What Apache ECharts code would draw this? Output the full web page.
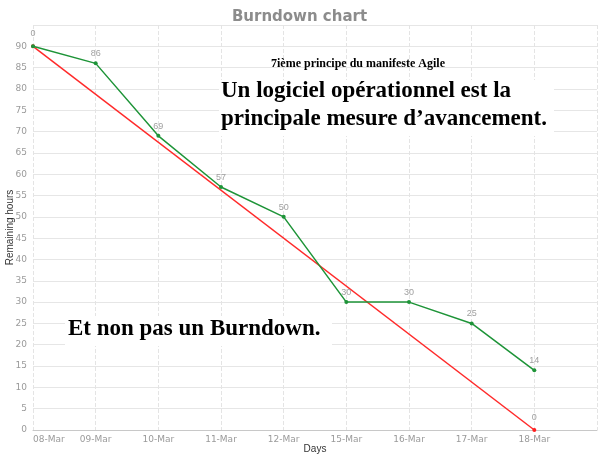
<!DOCTYPE html>
<html>
<head>
<meta charset="utf-8">
<script src="https://cdn.jsdelivr.net/npm/echarts@6/dist/echarts.min.js"></script>
<style>
  html, body { margin: 0; padding: 0; background: #fff; }
  #chart { width: 599px; height: 456px; }
</style>
</head>
<body>
<div id="chart"></div>
<script>
// jours (le dernier créneau est vide, l'axe continue jusqu'au bord)
const days = ['08-Mar', '09-Mar', '10-Mar', '11-Mar', '12-Mar', '15-Mar', '16-Mar', '17-Mar', '18-Mar', ''];
const remaining = [90, 86, 69, 57, 50, 30, 30, 25, 14];
const remainingLabels = ['', '86', '69', '57', '50', '30', '30', '25', '14'];
const ideal = [90, null, null, null, null, null, null, null, 0];
const idealLabels = ['0', '', '', '', '', '', '', '', '0'];

const chart = echarts.init(document.getElementById('chart'));

const gridLine = '#e6e6e6';
const labelStyle = { color: '#9a9a9a', fontSize: 9, fontFamily: 'DejaVu Sans' };

const options = {
  animation: false,
  title: {
    text: 'Burndown chart',
    left: 'center',
    top: 5,
    textStyle: { color: '#8c8c8c', fontSize: 15, fontWeight: 'bold', fontFamily: 'DejaVu Sans' }
  },
  grid: { left: 33, right: 2, top: 25, bottom: 26, containLabel: false, outerBoundsMode: 'none' },
  xAxis: {
    type: 'category',
    data: days,
    boundaryGap: false,
    name: 'Days',
    nameLocation: 'middle',
    nameGap: 14,
    nameMoveOverlap: false,
    nameTextStyle: { color: '#333', fontSize: 10, fontFamily: 'Liberation Sans' },
    axisLine: { lineStyle: { color: '#c8c8c8' } },
    axisTick: { show: false },
    axisLabel: Object.assign({ margin: 5, alignMinLabel: 'left' }, labelStyle),
    splitLine: { show: true, lineStyle: { color: '#e4e4e4', type: 'dashed' } }
  },
  yAxis: {
    type: 'value',
    min: 0,
    max: 95,
    interval: 5,
    name: 'Remaining hours',
    nameLocation: 'middle',
    nameGap: 18,
    nameMoveOverlap: false,
    nameTextStyle: { color: '#333', fontSize: 10, fontFamily: 'Liberation Sans' },
    axisLine: { show: false },
    axisTick: { show: false },
    axisLabel: Object.assign({
      margin: 6,
      formatter: v => (v >= 95 ? '' : v)
    }, labelStyle),
    splitLine: { show: true, lineStyle: { color: gridLine, width: 1 } }
  },
  series: [
    {
      name: 'Ideal',
      type: 'line',
      data: ideal,
      connectNulls: true,
      symbol: 'circle',
      symbolSize: 4,
      color: '#ff2020',
      lineStyle: { width: 1.5, color: '#ff2a2a' },
      label: {
        show: true,
        position: 'top',
        distance: 6,
        color: '#a0a0a0',
        fontSize: 9,
        formatter: p => idealLabels[p.dataIndex]
      },
      z: 3
    },
    {
      name: 'Remaining',
      type: 'line',
      data: remaining,
      symbol: 'circle',
      symbolSize: 4,
      color: '#1e9438',
      lineStyle: { width: 1.5, color: '#1e9438' },
      label: {
        show: true,
        position: 'top',
        distance: 3,
        color: '#a0a0a0',
        fontSize: 9,
        formatter: p => remainingLabels[p.dataIndex]
      },
      z: 4
    }
  ],
  graphic: [
    {
      type: 'rect',
      shape: { x: 219, y: 80, width: 335, height: 56 },
      style: { fill: '#fff' },
      z: 10
    },
    {
      type: 'text',
      left: 271, top: 58,
      style: {
        text: '7ième principe du manifeste Agile',
        font: 'bold 12px "Liberation Serif"',
        fill: '#000'
      },
      z: 11
    },
    {
      type: 'text',
      left: 221, top: 80,
      style: {
        text: 'Un logiciel opérationnel est la',
        font: 'bold 23px "Liberation Serif"',
        fill: '#000'
      },
      z: 11
    },
    {
      type: 'text',
      left: 221, top: 108,
      style: {
        text: 'principale mesure d’avancement.',
        font: 'bold 23px "Liberation Serif"',
        fill: '#000'
      },
      z: 11
    },
    {
      type: 'rect',
      shape: { x: 65, y: 316, width: 267, height: 30 },
      style: { fill: '#fff' },
      z: 10
    },
    {
      type: 'text',
      left: 68, top: 318,
      style: {
        text: 'Et non pas un Burndown.',
        font: 'bold 23px "Liberation Serif"',
        fill: '#000'
      },
      z: 11
    }
  ]
};

chart.setOption(options);
</script>
</body>
</html>
